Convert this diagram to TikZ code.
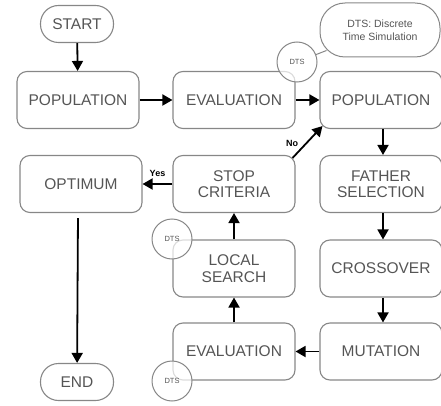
\documentclass[tikz,border=0pt]{standalone}
\usepackage{fontspec}
\setmainfont{Liberation Sans}
\usetikzlibrary{arrows.meta}
\definecolor{boxgray}{RGB}{135,135,135}
\definecolor{txtgray}{RGB}{85,85,85}
\tikzset{
  stepbox/.style={draw=boxgray, line width=1.1pt, rounded corners=10pt, minimum width=122pt, minimum height=57pt, inner sep=0pt, align=center, text=txtgray, font=\fontsize{15.5}{17.5}\selectfont},
  terminal/.style={draw=boxgray, line width=1.1pt, rounded corners=18pt, minimum width=73pt, minimum height=37pt, inner sep=0pt, text=txtgray, font=\fontsize{15.5}{17.5}\selectfont},
  dts/.style={circle, draw=boxgray, line width=1pt, fill=white, fill opacity=0.7, text opacity=1, minimum size=40pt, inner sep=0pt, text=txtgray, font=\fontsize{7.5}{8}\selectfont},
  note/.style={draw=boxgray, line width=1pt, rounded corners=25pt, minimum width=120pt, minimum height=54pt, inner sep=0pt, align=center, text=txtgray, font=\fontsize{10.5}{13}\selectfont},
  flow/.style={-{Triangle[length=10pt,width=11pt]}, line width=1.8pt, black},
  tag/.style={font=\bfseries\fontsize{9}{10}\selectfont, inner sep=1pt}
}
\begin{document}
\begin{tikzpicture}[x=1pt, y=-1pt]
\useasboundingbox (0,0) rectangle (441,406);
% Start and end
\node[terminal] (start) at (77,24) {START};
\node[terminal] (end) at (77,382) {END};
% Left column
\node[stepbox] (pop1) at (78,100) {POPULATION};
\node[stepbox] (optimum) at (81,184) {OPTIMUM};
% Middle column
\node[stepbox] (eval1) at (234,100) {EVALUATION};
\node[stepbox] (stop) at (234,184) {STOP\\[-1pt]CRITERIA};
\node[stepbox] (local) at (234,268.5) {LOCAL\\[-1pt]SEARCH};
\node[stepbox] (eval2) at (234,351.5) {EVALUATION};
% Right column
\node[stepbox] (pop2) at (381,100) {POPULATION};
\node[stepbox] (father) at (381,184) {FATHER\\[-1pt]SELECTION};
\node[stepbox] (cross) at (381,268.5) {CROSSOVER};
\node[stepbox] (mut) at (381,351.5) {MUTATION};
% Simulation markers
\node[dts] (dts1) at (297,62) {DTS};
\node[dts] (dts2) at (172,239) {DTS};
\node[dts] (dts3) at (172,381) {DTS};
\node[note] (note) at (380,30) {DTS: Discrete\\Time Simulation};
\coordinate (notetip) at ([xshift=7pt, yshift=7pt]note.south west);
\draw[draw=boxgray, line width=1pt] (dts1) -- (notetip);
% Flow arrows
\draw[flow] (start) -- (pop1);
\draw[flow] (pop1) -- (eval1);
\draw[flow] (eval1) -- (pop2);
\draw[flow] ([xshift=2pt]pop2.south) -- ([xshift=2pt]father.north);
\draw[flow] ([xshift=2pt]father.south) -- ([xshift=2pt]cross.north);
\draw[flow] ([xshift=2pt]cross.south) -- ([xshift=2pt]mut.north);
\draw[flow] (mut) -- (eval2);
\draw[flow] (eval2) -- (local);
\draw[flow] (local) -- (stop);
\draw[flow] (stop) -- node[tag, above=6pt] {Yes} (optimum);
\draw[flow] ([xshift=-3pt, yshift=-3pt]stop.north east) -- node[tag, pos=0.45, left=6pt] {No} ([xshift=3pt, yshift=3pt]pop2.south west);
\draw[flow, shorten <=5pt] ([xshift=-3pt]optimum.south) -- (end);
\end{tikzpicture}
\end{document}
